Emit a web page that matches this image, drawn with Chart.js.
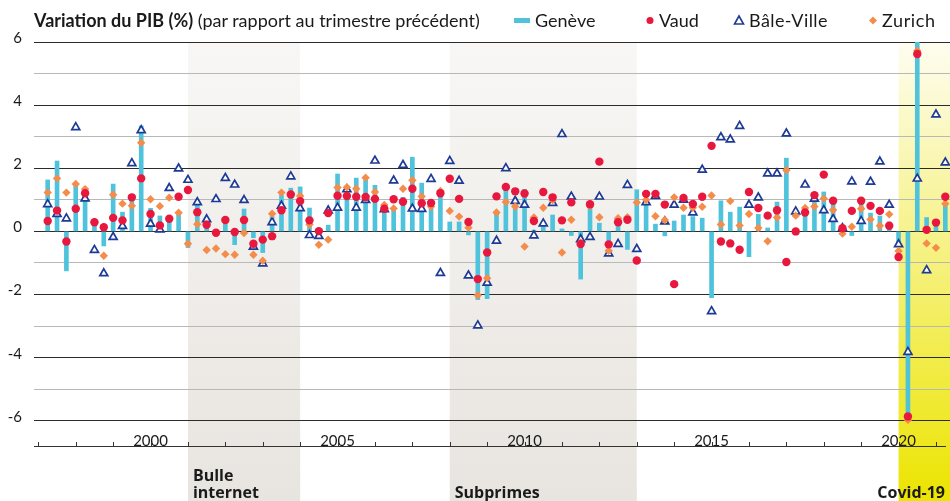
<!DOCTYPE html>
<html>
<head>
<meta charset="utf-8">
<script src="https://cdn.jsdelivr.net/npm/chart.js@4.4.1/dist/chart.umd.min.js"></script>
<style>
  html, body { margin: 0; padding: 0; background: #fff; }
  #wrap { position: relative; width: 950px; height: 501px; font-family: Lato, "Noto Sans", sans-serif; color: #1a1a1a; }
  #chart { position: absolute; left: 0; top: 0; }
  .hd { position: absolute; top: 9px; font-size: 18px; line-height: 22px; white-space: nowrap; }
  #marks { position: absolute; left: 0; top: 0; }
</style>
</head>
<body>
<div id="wrap">
  <canvas id="chart" width="950" height="501"></canvas>
  <div class="hd" style="left:34px"><b>Variation du PIB (%)</b> (par rapport au trimestre précédent)</div>
  <svg id="marks" width="950" height="40">
    <rect x="514" y="18" width="16" height="5" fill="#4fc3dc"/>
    <circle cx="650" cy="20.5" r="3.5" fill="#e8173e"/>
    <polygon points="739,16 743.5,24 734.5,24" fill="#fff" stroke="#1f3c95" stroke-width="1.6"/>
    <polygon points="873,16.5 877,20.5 873,24.5 869,20.5" fill="#f48c4b"/>
  </svg>
  <div class="hd" style="left:535px">Genève</div>
  <div class="hd" style="left:659px">Vaud</div>
  <div class="hd" style="left:749px; letter-spacing:0.4px">Bâle-Ville</div>
  <div class="hd" style="left:882px; letter-spacing:0.6px">Zurich</div>
</div>
<script>
// quarters from 1997 T2 to 2021 T2
const firstYear = 1997
const firstQuarter = 2
const quarters = []
for (let i = 0; i < 97; i++) {
    const q = firstQuarter - 1 + i
    quarters.push(`${firstYear + Math.floor(q / 4)}T${(q % 4) + 1}`)
}

// GDP change vs previous quarter (%)
const geneve = [
    1.63, 2.23, -1.25, 1.47, 1.34, 0.2, -0.46, 1.5, 0.61, 1.0,
    3.34, 0.73, 0.49, 0.36, 0.59, -0.51, 0.89, 0.3, 0.05, 0.25,
    -0.42, 0.71, -0.2, -0.67, 0.47, 1.15, 1.37, 1.41, 0.74, -0.1,
    0.2, 1.82, 1.4, 1.69, 1.64, 1.46, 0.84, 0.73, 1.08, 2.35,
    1.53, 0.84, 1.27, 0.3, 0.3, -0.11, -2.16, -2.13, 0.6, 1.42,
    1.05, 1.33, 0.04, 0.15, 0.52, 0.08, -0.13, -1.51, 0.86, 0.26,
    -0.45, 0.16, -0.57, 1.32, 0.9, 0.23, -0.14, 0.33, 0.52, 0.47,
    0.42, -2.1, 0.97, 0.61, 0.77, -0.8, 0.54, 0.11, 0.93, 2.32,
    0, 0.7, 1.18, 1.25, 0.87, 0.05, -0.13, 0.9, 0.58, 0.49,
    0.3, -0.38, -6.0, 6.0, 0.44, 0.35, 0.84
]
const vaud = [
    0.33, 0.66, -0.32, 0.72, 1.21, 0.29, 0.13, 0.43, 0.35, 1.08,
    1.68, 0.55, 0.19, 0.4, 1.1, 1.31, 0.61, 0.21, -0.04, 0.36,
    -0.02, 0.36, -0.39, -0.26, -0.15, 0.67, 1.17, 0.96, 0.35, 0.01,
    0.58, 1.13, 1.12, 1.1, 1.09, 1.03, 0.72, 1.02, 0.94, 1.35,
    0.89, 0.9, 1.21, 1.67, 1.03, 0.3, -1.51, -0.67, 1.11, 1.41,
    1.27, 1.2, 0.33, 1.25, 1.08, 0.35, 0.92, -0.4, 0.86, 2.21,
    -0.41, 0.29, 0.37, -0.92, 1.19, 1.19, 0.85, -1.67, 1.06, 0.87,
    1.1, 2.71, -0.32, -0.38, -0.58, 1.25, 0.74, 0.5, 0.67, -0.97,
    0.0, 0.6, 1.15, 1.8, 0.97, 0.1, 0.65, 0.97, 0.81, 0.65,
    0.18, -0.81, -5.86, 5.62, 0.05, 0.28, 1.1
]
const bale = [
    0.86, 0.55, 0.41, 3.3, 1.04, -0.59, -1.33, -0.18, 0.17, 2.16,
    3.2, 0.24, 0.06, 1.37, 1.99, 1.63, 0.92, 0.38, 1.02, 1.69,
    1.48, 0.99, -0.49, -1.02, 0.29, 0.81, 1.74, 0.73, -0.12, -0.15,
    0.66, 0.75, 1.33, 0.75, 0.99, 2.24, 0.7, 1.61, 2.1, 0.72,
    0.71, 1.66, -1.32, 2.23, 1.6, -1.4, -2.98, -1.63, -0.3, 2.0,
    0.96, 0.84, -0.13, 0.25, 0.9, 3.08, 1.1, -0.25, -0.18, 1.1,
    -0.7, -0.4, 1.47, -0.56, 0.92, 1.12, 0.31, 0.84, 1.0, 0.6,
    1.95, -2.53, 2.98, 2.91, 3.34, 0.84, 1.07, 1.83, 1.83, 3.1,
    0.63, 1.48, 1.03, 0.67, 0.39, 0.1, 1.58, 0.33, 1.57, 2.21,
    0.84, -0.41, -3.82, 1.67, -1.23, 3.7, 2.18
]
const zurich = [
    1.23, 1.68, 1.23, 1.5, 1.34, 0.3, -0.77, 1.16, 0.88, 0.81,
    2.81, 1.02, 0.8, 1.07, 0.59, -0.39, 0.23, -0.59, -0.54, -0.72,
    -0.74, -0.05, -0.74, -0.93, 0.56, 1.23, 1.2, 1.12, 0.22, -0.42,
    -0.26, 1.39, 1.4, 1.35, 1.7, 1.25, 0.84, 0.73, 1.35, 1.62,
    1.11, 0.79, 1.28, 0.65, 0.47, 0.12, -2.02, -1.48, 0.6, 0.93,
    0.79, -0.48, 0.44, 0.75, 0.99, -0.67, 0.37, -0.35, 0.8, 0.45,
    -0.61, 0.42, 0.45, 0.92, 1.0, 0.48, 0.36, 1.08, 0.75, 0.75,
    0.78, 1.14, 0.22, 0.96, 0.19, 0.55, 0.11, -0.31, 0.44, 1.94,
    0.5, 0.74, 0.79, 1.04, 0.68, -0.07, 0.15, 0.72, 0.38, 0.18,
    0.54, -0.62, -5.97, 5.72, -0.38, -0.52, 0.88
]

// y ticks and shaded periods
const yTicks = [-6, -4, -2, 0, 2, 4, 6]
const bandNames = [['Bulle', 'internet'], ['Subprimes'], ['Covid-19']]
const bandStart = [2001, 2008, 2020]
const bandEnd = [2004, 2013, 2021.375]

// quarter label -> position on a year axis
function quarterPos(label) {
    const [y, q] = label.split('T')
    return Number(y) + (Number(q) - 1) / 4
}
function toPoints(values) {
    return values.map((v, i) => ({ x: quarterPos(quarters[i]), y: v }))
}

const bandStyles = [
    { top: '#f8f7f5', bottom: '#e8e4df', align: 'left' },
    { top: '#f8f7f5', bottom: '#e8e4df', align: 'left' },
    { top: '#fefdf0', bottom: '#ece400', align: 'right' }
]
const AXIS_Y = 446

// shaded periods behind everything, names under the axis, axis line with year ticks
const bandsPlugin = {
    id: 'bands',
    beforeDraw(chart) {
        const { ctx, chartArea, scales: { x } } = chart
        ctx.save()
        bandStart.forEach((start, i) => {
            const x0 = x.getPixelForValue(start)
            const x1 = Math.min(x.getPixelForValue(bandEnd[i]), chart.width)
            const grad = ctx.createLinearGradient(0, chartArea.top, 0, chart.height)
            grad.addColorStop(0, bandStyles[i].top)
            grad.addColorStop(1, bandStyles[i].bottom)
            ctx.fillStyle = grad
            ctx.fillRect(x0, chartArea.top, x1 - x0, chart.height - chartArea.top)
        })
        ctx.restore()
    },
    afterDraw(chart) {
        const { ctx, chartArea, scales: { x } } = chart
        ctx.save()
        ctx.fillStyle = '#1a1a1a'
        ctx.font = 'bold 16px "Open Sans", Lato, sans-serif'
        ctx.textBaseline = 'alphabetic'
        bandNames.forEach((lines, i) => {
            let tx
            if (bandStyles[i].align === 'left') {
                ctx.textAlign = 'left'
                tx = x.getPixelForValue(bandStart[i]) + 5
            } else {
                ctx.textAlign = 'right'
                tx = chart.width - 5
            }
            const base = 498 - (lines.length - 1) * 17
            lines.forEach((t, j) => ctx.fillText(t, tx, base + j * 17))
        })
        // axis line and short year ticks pointing up
        ctx.strokeStyle = '#333'
        ctx.lineWidth = 1
        ctx.beginPath()
        ctx.moveTo(chartArea.left, AXIS_Y + 0.5)
        ctx.lineTo(chartArea.right - 4, AXIS_Y + 0.5)
        ctx.stroke()
        x.ticks.forEach(t => {
            const px = Math.round(x.getPixelForValue(t.value)) + 0.5
            ctx.beginPath()
            ctx.moveTo(px, AXIS_Y - 4)
            ctx.lineTo(px, AXIS_Y)
            ctx.stroke()
        })
        ctx.restore()
    }
}

const ctx = document.getElementById('chart').getContext('2d')
new Chart(ctx, {
    type: 'bar',
    data: {
        datasets: [
            {
                label: 'Vaud', type: 'line', showLine: false, data: toPoints(vaud),
                pointStyle: 'circle', pointRadius: 4.2, pointBorderWidth: 0,
                pointBackgroundColor: '#e8173e', borderColor: '#e8173e', order: 0
            },
            {
                label: 'Zurich', type: 'line', showLine: false, data: toPoints(zurich),
                pointStyle: 'rectRot', pointRadius: 4.2, pointBorderWidth: 0,
                pointBackgroundColor: '#f48c4b', borderColor: '#f48c4b', order: 1
            },
            {
                label: 'Bâle-Ville', type: 'line', showLine: false, data: toPoints(bale),
                pointStyle: 'triangle', pointRadius: 4.6, pointBorderWidth: 1.7,
                pointBackgroundColor: '#ffffff', pointBorderColor: '#1d3a94', borderColor: '#1d3a94', order: 2
            },
            {
                label: 'Genève', data: toPoints(geneve), backgroundColor: '#4fc3dc',
                barThickness: 4, order: 3
            }
        ]
    },
    options: {
        responsive: false,
        animation: false,
        layout: { autoPadding: false, padding: { top: 42, left: 0, right: 0, bottom: 0 } },
        plugins: { legend: { display: false }, tooltip: { enabled: false } },
        scales: {
            x: {
                type: 'linear',
                offset: false,
                min: 1996.884,
                max: 2021.375,
                afterFit: (s) => { s.height = 77 },
                grid: { display: false, offset: false },
                border: { display: false },
                ticks: {
                    stepSize: 1, includeBounds: false, autoSkip: false, maxRotation: 0,
                    padding: 0, color: '#1a1a1a',
                    font: { family: 'Lato, "Noto Sans", sans-serif', size: 15 },
                    callback: (v) => (v % 5 === 0 ? String(v) : '')
                }
            },
            y: {
                min: -6.1,
                max: 6,
                afterFit: (s) => { s.width = 34 },
                border: { display: false },
                grid: {
                    drawTicks: false,
                    lineWidth: 1,
                    color: (c) => (yTicks.includes(c.tick.value) ? '#2b2b2b' : '#b8b8b8')
                },
                ticks: {
                    stepSize: 1, includeBounds: false, padding: 12, labelOffset: -4,
                    color: '#1a1a1a',
                    font: { family: 'Lato, "Noto Sans", sans-serif', size: 15 },
                    callback: (v) => (yTicks.includes(v) ? String(v) : '')
                }
            }
        }
    },
    plugins: [bandsPlugin]
})
</script>
</body>
</html>
